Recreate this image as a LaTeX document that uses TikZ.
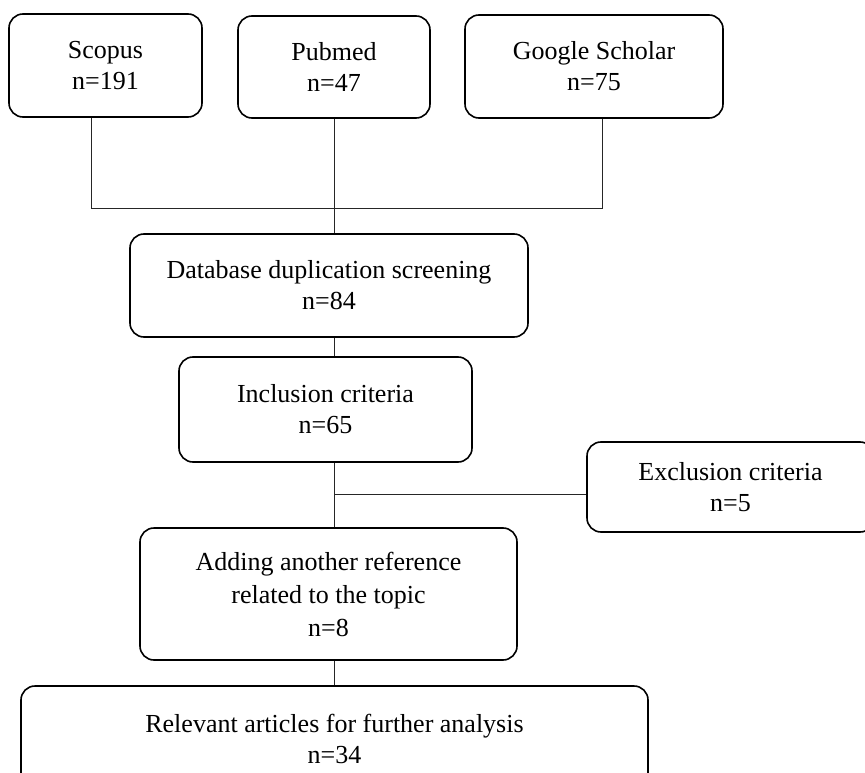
\documentclass[tikz,border=0pt]{standalone}
\usepackage{fontspec}
\setmainfont{Liberation Serif}
\tikzset{
  stage/.style={draw, line width=1.6pt, rounded corners=14pt, align=center,
    inner sep=0pt, font=\fontsize{26}{31}\selectfont},
  link/.style={draw, line width=0.9pt, black!85}
}
\begin{document}
\begin{tikzpicture}[x=1pt,y=-1pt]
  \useasboundingbox (0,0) rectangle (865,773);
  \node (scopus) [stage, minimum width=193pt, minimum height=103pt] at (105.5,65.5) {Scopus\\n=191};
  \node (pubmed) [stage, minimum width=192pt, minimum height=102pt] at (334,67) {Pubmed\\n=47};
  \node (gscholar) [stage, minimum width=258pt, minimum height=103pt] at (594,66.5) {Google Scholar\\n=75};
  \node (dedup) [stage, minimum width=398pt, minimum height=103pt] at (329,285.5) {Database duplication screening\\n=84};
  \node (incl) [stage, minimum width=293pt, minimum height=105pt] at (325.5,409.5) {Inclusion criteria\\n=65};
  \node (excl) [stage, minimum width=287pt, minimum height=90pt] at (730.5,487) {Exclusion criteria\\n=5};
  \node (adding) [stage, font=\fontsize{26}{33}\selectfont, minimum width=377pt, minimum height=132pt] at (328.5,594) {Adding another reference\\related to the topic\\n=8};
  \node (relev) [stage, minimum width=627pt, minimum height=106pt] at (334.5,739) {Relevant articles for further analysis\\n=34};

  \coordinate (spine) at (334,0);
  \coordinate (sj) at (91,208);
  \coordinate (gj) at (602,208);
  \coordinate (xj) at (334,494);
  \draw[link] (scopus.south -| sj) -- (sj) -- (gj) -- (gscholar.south -| gj);
  \draw[link] (pubmed.south -| spine) -- (dedup.north -| spine);
  \draw[link] (dedup.south -| spine) -- (incl.north -| spine);
  \draw[link] (incl.south -| spine) -- (adding.north -| spine);
  \draw[link] (xj) -- (excl.west |- xj);
  \draw[link] (adding.south -| spine) -- (relev.north -| spine);
\end{tikzpicture}
\end{document}
